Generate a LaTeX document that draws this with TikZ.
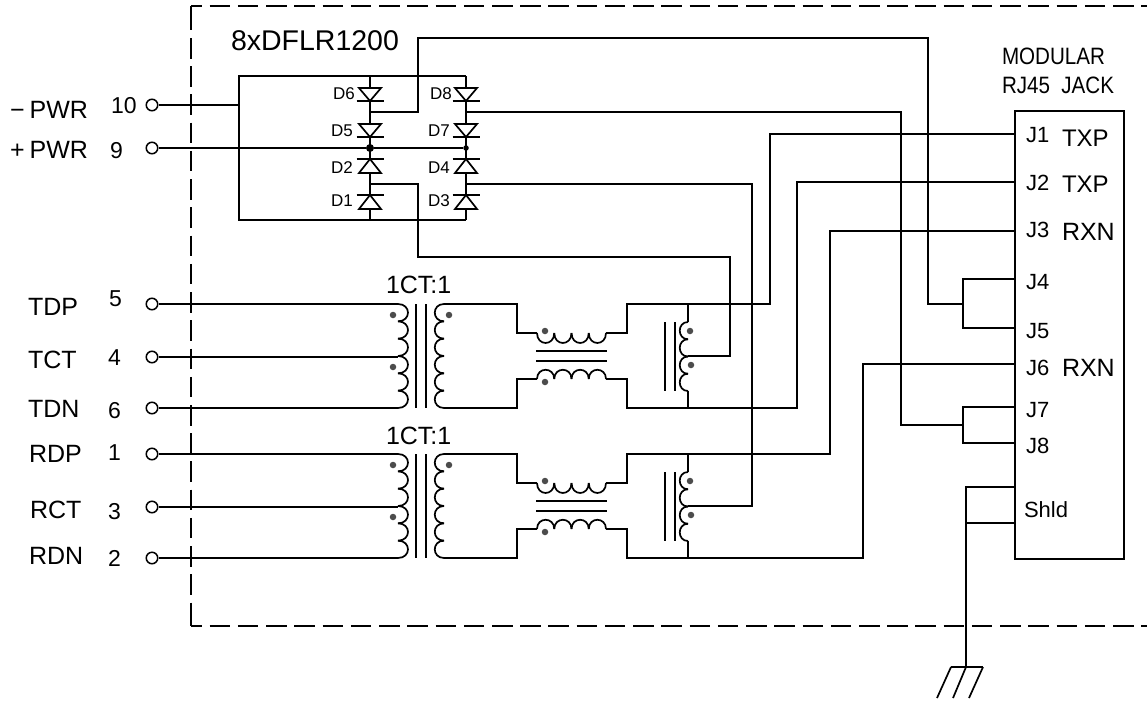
\documentclass[tikz,border=0pt]{standalone}
\usepackage{fontspec}
\setmainfont{Liberation Sans}
\tikzset{
  wire/.style={line width=1.7pt,line join=miter,line cap=butt},
  border/.style={line width=1.6pt,dash pattern=on 20.5pt off 7.73pt},
  bordersolid/.style={line width=1.6pt},
  pinc/.style={circle,draw,line width=1.5pt,minimum size=11.5pt,inner sep=0pt,fill=white},
  lbl/.style={anchor=base west,inner sep=0pt,outer sep=0pt,font=\fontsize{#1}{#1}\selectfont},
  lbl/.default=22,
  phasedot/.style={circle,fill=black!70,inner sep=0pt,minimum size=6.5pt},
  jdot/.style={circle,fill=black,inner sep=0pt,minimum size=#1},
}
% vertical coil: x base, y start, bump height, count, depth
\newcommand{\coilV}[5]{%
  \foreach \k in {1,...,#4}{%
    \draw[wire] ({#1},{#2+(\k-1)*#3}) .. controls ({#1+#5},{#2+(\k-1)*#3}) and ({#1+#5},{#2+\k*#3}) .. ({#1},{#2+\k*#3});
  }}
% horizontal coil: x start, y base, bump width, count, depth
\newcommand{\coilH}[5]{%
  \foreach \k in {1,...,#4}{%
    \draw[wire] ({#1+(\k-1)*#3},{#2}) .. controls ({#1+(\k-1)*#3},{#2+#5}) and ({#1+\k*#3},{#2+#5}) .. ({#1+\k*#3},{#2});
  }}
% magnetics block: prefix, y offset
\newcommand{\magblock}[2]{%
  \begin{scope}[shift={(0,#2)}]
    \coordinate (#1pt) at (398,304);
    \coordinate (#1pm) at (398,357);
    \coordinate (#1pb) at (398,408);
    \coordinate (#1st) at (444,304);
    \coordinate (#1sb) at (444,408);
    \coordinate (#1ct) at (537,333);
    \coordinate (#1cte) at (606,333);
    \coordinate (#1cb) at (537,379);
    \coordinate (#1cbe) at (606,379);
    \coordinate (#1rt) at (688,304);
    \coordinate (#1rb) at (688,408);
    \coordinate (#1rc) at (688,356);
    \coilV{398}{304}{17.33}{6}{13.3}
    \coilV{444}{304}{17.33}{6}{-12.3}
    \draw[wire] (416,304) -- (416,408) (426,304) -- (426,408);
    \draw[wire] (#1st) -- ++(73,0) -- ++(0,29) -- (#1ct);
    \draw[wire] (#1sb) -- ++(73,0) -- ++(0,-29) -- (#1cb);
    \coilH{537}{333}{17.25}{4}{13.3}
    \coilH{537}{379}{17.25}{4}{-12.3}
    \draw[wire] (536,351) -- (607,351) (536,361) -- (607,361);
    \draw[wire] (#1cte) -- ++(21,0) -- ++(0,-29) -- (#1rt);
    \draw[wire] (#1cbe) -- ++(21,0) -- ++(0,29) -- (#1rb);
    \draw[wire] (#1rt) -- (688,322) (688,391) -- (#1rb);
    \coilV{688}{322}{17.25}{4}{-11}
    \draw[wire] (665,322) -- (665,391) (675,322) -- (675,391);
    \node[phasedot] (#1d1) at (393,315) {};
    \node[phasedot] (#1d2) at (393,367) {};
    \node[phasedot] (#1d3) at (449,315) {};
    \node[phasedot] (#1d4) at (545,331) {};
    \node[phasedot] (#1d5) at (545,382) {};
    \node[phasedot] (#1d6) at (690,331) {};
    \node[phasedot] (#1d7) at (691,365) {};
  \end{scope}}
% diode: x, base y, bar y
\newcommand{\diodeg}[3]{%
  \draw[wire] ({#1-11},#2) -- ({#1+11},#2) -- (#1,#3) -- cycle;
  \draw[wire] ({#1-13.5},#3) -- ({#1+13.5},#3);}
\begin{document}
\begin{tikzpicture}[x=1pt,y=-1pt]
\useasboundingbox (0,0) rectangle (1147,702);
% border
\coordinate (bTR) at (1147,6);
\coordinate (bTL) at (191,6);
\coordinate (bLs) at (191,9.8);
\coordinate (bBL) at (191,626);
\coordinate (bBs) at (191,620);
\coordinate (bBR) at (1147,626);
\draw[border,dash phase=9.5pt] (bTL) -- (bTR);
\draw[border,dash phase=9.5pt] (bBL) -- (bBR);
\draw[border] (bLs) -- (bBs);
\draw[bordersolid,line cap=square] (bTL) -- (bLs) (bBs) -- (bBL);
% pins
\node[pinc] (p10) at (152,105) {};
\node[pinc] (p9) at (152,148) {};
\node[pinc] (p5) at (152,304) {};
\node[pinc] (p4) at (152,357) {};
\node[pinc] (p6) at (152,408) {};
\node[pinc] (p1) at (152,454) {};
\node[pinc] (p3) at (152,507) {};
\node[pinc] (p2) at (152,558) {};
% diode bridge
\coordinate (rTL) at (239,76);
\coordinate (rBL) at (239,220);
\coordinate (rTR) at (466,76);
\coordinate (rBR) at (466,220);
\coordinate (rL) at (239,105);
\coordinate (a1) at (370,112);
\coordinate (a2) at (466,112);
\coordinate (a3) at (370,184);
\coordinate (a4) at (466,184);
\node[jdot=8pt] (n1) at (370,148) {};
\node[jdot=5.5pt] (n2) at (466,148) {};
\draw[wire] (rTR) -- (rTL) -- (rBL) -- (rBR);
\draw[wire] (p10) -- (rL);
\draw[wire] (p9) -- (n1) -- (n2);
\foreach \cx in {370,466}{
  \draw[wire] (\cx,76) -- (\cx,88) (\cx,101) -- (\cx,124) (\cx,137) -- (\cx,159) (\cx,173) -- (\cx,195) (\cx,209) -- (\cx,220);
  \diodeg{\cx}{88}{101}
  \diodeg{\cx}{124}{137}
  \diodeg{\cx}{173}{159}
  \diodeg{\cx}{209}{195}
}
% magnetics
\magblock{T}{0}
\magblock{R}{150}
\draw[wire] (p5) -- (Tpt);
\draw[wire] (p4) -- (Tpm);
\draw[wire] (p6) -- (Tpb);
\draw[wire] (p1) -- (Rpt);
\draw[wire] (p3) -- (Rpm);
\draw[wire] (p2) -- (Rpb);
% jack
\node[draw,line width=1.7pt,minimum width=109pt,minimum height=448pt,inner sep=0pt,anchor=north west] (jack) at (1014,110) {};
\coordinate (j1) at (1014,134);
\coordinate (j2) at (1014,182);
\coordinate (j3) at (1014,231);
\coordinate (j4) at (1014,279);
\coordinate (j5) at (1014,328);
\coordinate (j6) at (1014,364);
\coordinate (j7) at (1014,407);
\coordinate (j8) at (1014,443);
\coordinate (js1) at (1014,487);
\coordinate (js2) at (1014,523);
% long wires
\draw[wire] (a1) -| (418,38) -| (928,304) -- (963,304);
\draw[wire] (j4) -| (963,328) -- (j5);
\draw[wire] (a2) -- (901,112) |- (963,425);
\draw[wire] (j7) -| (963,443) -- (j8);
\draw[wire] (a3) -| (418,257) -| (730,356) -- (Trc);
\draw[wire] (a4) -| (752,506) -- (Rrc);
\draw[wire] (Trt) -- (770,304) |- (j1);
\draw[wire] (Trb) -- (797,408) |- (j2);
\draw[wire] (Rrt) -- (830,454) |- (j3);
\draw[wire] (Rrb) -- (863,558) |- (j6);
% shield and ground
\coordinate (g1) at (951,667);
\coordinate (g2) at (966,667);
\coordinate (g3) at (983,667);
\draw[wire] (js1) -- (966,487) -- (g2);
\draw[wire] (js2) -- (966,523);
\draw[wire] (g1) -- (g3);
\draw[wire] (g1) -- (937,698) (g2) -- (953,698) (g3) -- (969,698);
% labels
\node[lbl=25] (t1) at (10,118) {−\hspace{5pt}PWR};
\node[lbl=25] (t2) at (10,158) {+\hspace{5pt}PWR};
\node[lbl=23] (n10) at (111,113) {10};
\node[lbl=23] (n9) at (110,158) {9};
\node[lbl=25] (l5) at (28,315) {TDP};
\node[lbl=25] (l4) at (28,368) {TCT};
\node[lbl=25] (l6) at (28,417) {TDN};
\node[lbl=25] (l1) at (29,462) {RDP};
\node[lbl=25] (l3) at (30,518) {RCT};
\node[lbl=25] (l2) at (29,564) {RDN};
\node[lbl=23] (m5) at (109,306) {5};
\node[lbl=23] (m4) at (108,365) {4};
\node[lbl=23] (m6) at (108,418) {6};
\node[lbl=23] (m1) at (108,460) {1};
\node[lbl=23] (m3) at (108,519) {3};
\node[lbl=23] (m2) at (108,566) {2};
\node[lbl=28.5] (top) at (231,50) {8xDFLR1200};
\node[lbl=25] (ct1) at (386,293) {1CT:1};
\node[lbl=25] (ct2) at (386,444) {1CT:1};
\node[lbl=17] (d6) at (333,99) {D6};
\node[lbl=17] (d5) at (331,136) {D5};
\node[lbl=17] (d2) at (331,173) {D2};
\node[lbl=17] (d1) at (331,206) {D1};
\node[lbl=17] (d8) at (430,99) {D8};
\node[lbl=17] (d7) at (428,136) {D7};
\node[lbl=17] (d4) at (428,173) {D4};
\node[lbl=17] (d3) at (428,206) {D3};
\node[lbl=20.6] (mj1) at (1002,64) {\scalebox{1}[1.15]{MODULAR}};
\node[lbl=20.6] (mj2) at (1002,93) {\scalebox{1}[1.15]{RJ45\hspace{0.55em}JACK}};
\node[lbl=22] (J1) at (1026,142) {J1};
\node[lbl=24] (x1) at (1062,146) {TXP};
\node[lbl=22] (J2) at (1026,190) {J2};
\node[lbl=24] (x2) at (1062,192) {TXP};
\node[lbl=22] (J3) at (1026,237) {J3};
\node[lbl=25] (x3) at (1062,240) {RXN};
\node[lbl=22] (J4) at (1026,289) {J4};
\node[lbl=22] (J5) at (1026,338) {J5};
\node[lbl=22] (J6) at (1026,375) {J6};
\node[lbl=25] (x6) at (1062,376) {RXN};
\node[lbl=22] (J7) at (1026,417) {J7};
\node[lbl=22] (J8) at (1026,453) {J8};
\node[lbl=22] (Sh) at (1024,517) {Shld};
\end{tikzpicture}
\end{document}
